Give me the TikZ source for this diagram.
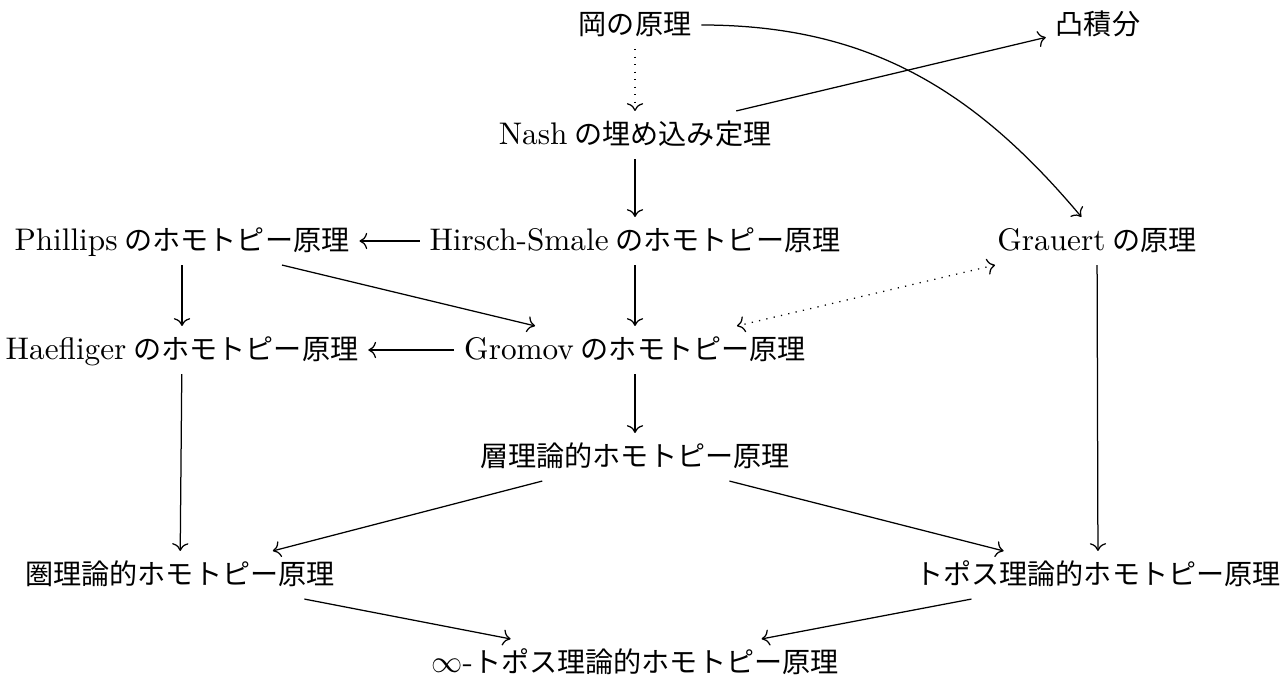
\documentclass[tikz,border=0pt]{standalone}
\usepackage{fontspec}
\newfontfamily\jp{Noto Sans CJK JP}[Scale=0.9]
\usetikzlibrary{cd}
\newcommand\jsp{\hspace{2.2pt}}
\begin{document}
\begin{tikzpicture}[x=0.32pt,y=-0.32pt,
  lbl/.style={inner sep=3pt, text height=7.5pt, text depth=1.5pt, font=\fontsize{10}{12}\selectfont},
  arr/.style={-cm to, line width=0.4pt},
  dotarr/.style={-cm to, line width=0.4pt, dotted},
  dblarr/.style={cm to-cm to, line width=0.4pt, dotted}]
\useasboundingbox (0,0) rectangle (1284,679);
\node[lbl] (oka)   at (635,25)  {\jp 岡の原理};
\node[lbl] (tot)   at (1098,25) {\jp 凸積分};
\node[lbl] (nash)  at (635,135) {Nash\jsp{\jp の埋め込み定理}};
\node[lbl] (phil)  at (182,241) {Phillips\jsp{\jp のホモトピー原理}};
\node[lbl] (hs)    at (635,241) {Hirsch-Smale\jsp{\jp のホモトピー原理}};
\node[lbl] (grau)  at (1097,241) {Grauert\jsp{\jp の原理}};
\node[lbl] (haef)  at (182,350) {Haefliger\jsp{\jp のホモトピー原理}};
\node[lbl] (grom)  at (635,350) {Gromov\jsp{\jp のホモトピー原理}};
\node[lbl] (sheaf) at (635,457) {\jp 層理論的ホモトピー原理};
\node[lbl] (cat)   at (180,575) {\jp 圏理論的ホモトピー原理};
\node[lbl] (topos) at (1098,575) {\jp トポス理論的ホモトピー原理};
\node[lbl] (inf)   at (635,663) {$\infty$-{\jp トポス理論的ホモトピー原理}};

\draw[dotarr] (oka) -- (nash);
\draw[arr] (oka.east) to[out=0,in=130] ([xshift=-5pt]grau.north);
\draw[arr] (nash) -- (tot);
\draw[arr] (nash) -- (hs);
\draw[arr] (hs) -- (phil);
\draw[arr] (hs) -- (grom);
\draw[arr] (phil) -- (grom);
\draw[arr] (phil) -- (haef);
\draw[arr] (grom) -- (haef);
\draw[dblarr] (grau) -- (grom);
\draw[arr] (grau) -- (topos);
\draw[arr] (grom) -- (sheaf);
\draw[arr] (haef) -- (cat);
\draw[arr] (sheaf) -- (cat);
\draw[arr] (sheaf) -- (topos);
\draw[arr] (cat) -- (inf);
\draw[arr] (topos) -- (inf);
\end{tikzpicture}
\end{document}
